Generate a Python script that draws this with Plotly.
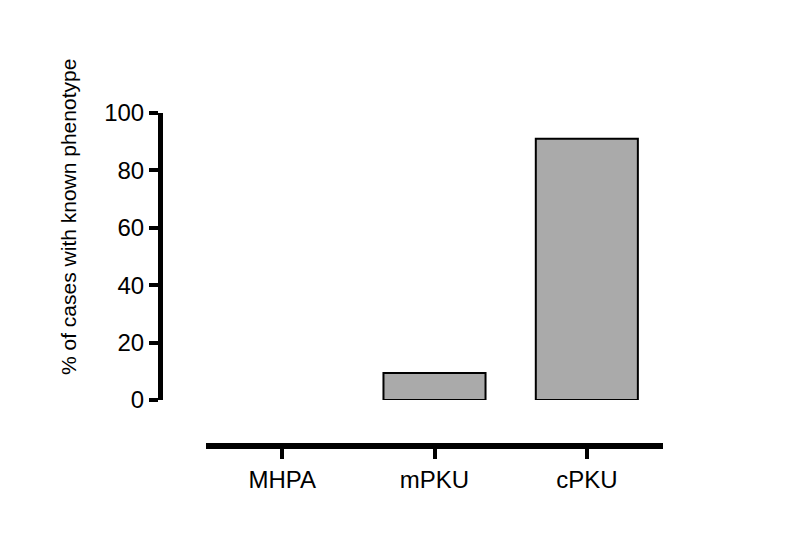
import plotly.graph_objects as go

categories = ["MHPA", "mPKU", "cPKU"]
values = [0, 9.4, 91]
y_ticks = [0, 20, 40, 60, 80, 100]
y_title = "% of cases with known phenotype"

W, H = 800, 550
OFF = 8  # default page body margin
L, T = 160 - OFF, 113 - OFF
R = W - (663 - OFF)
B = H - (446 - OFF)
plot_w = W - L - R
plot_h = H - T - B
ydom0 = (446 - 400) / plot_h

fig = go.Figure()
fig.add_trace(go.Bar(
    x=categories, y=values,
    marker=dict(color="#aaaaaa",
                line=dict(color="black", width=[0 if v == 0 else 2 for v in values])),
    width=0.67,
))

font = "Liberation Sans, Arial, sans-serif"
fig.update_layout(
    width=W, height=H,
    margin=dict(l=L, r=R, t=T, b=B),
    plot_bgcolor="white", paper_bgcolor="white",
    showlegend=False,
    xaxis=dict(
        domain=[(206 - 160) / plot_w, 1],
        range=[-0.5, 2.5],
        anchor="free", position=0,
        showline=True, linecolor="black", linewidth=6,
        ticks="outside", ticklen=10, tickwidth=4, tickcolor="black",
        tickfont=dict(family=font, size=24, color="black"),
        showgrid=False, zeroline=False,
    ),
    yaxis=dict(
        domain=[ydom0, 1],
        range=[0, 100],
        anchor="free", position=0,
        tickvals=y_ticks,
        showline=True, linecolor="black", linewidth=5,
        ticks="outside", ticklen=9, tickwidth=4, tickcolor="black",
        tickfont=dict(family=font, size=24, color="black"),
        ticklabelstandoff=0,
        showgrid=False, zeroline=False,
    ),
    annotations=[dict(
        text=y_title, xref="paper", yref="paper",
        x=(68 - 160) / plot_w, y=1 - (217 - 113) / plot_h,
        textangle=-90, showarrow=False,
        font=dict(family=font, size=21, color="black"),
        xanchor="center", yanchor="middle",
    )],
)

fig.write_html("out.html")
